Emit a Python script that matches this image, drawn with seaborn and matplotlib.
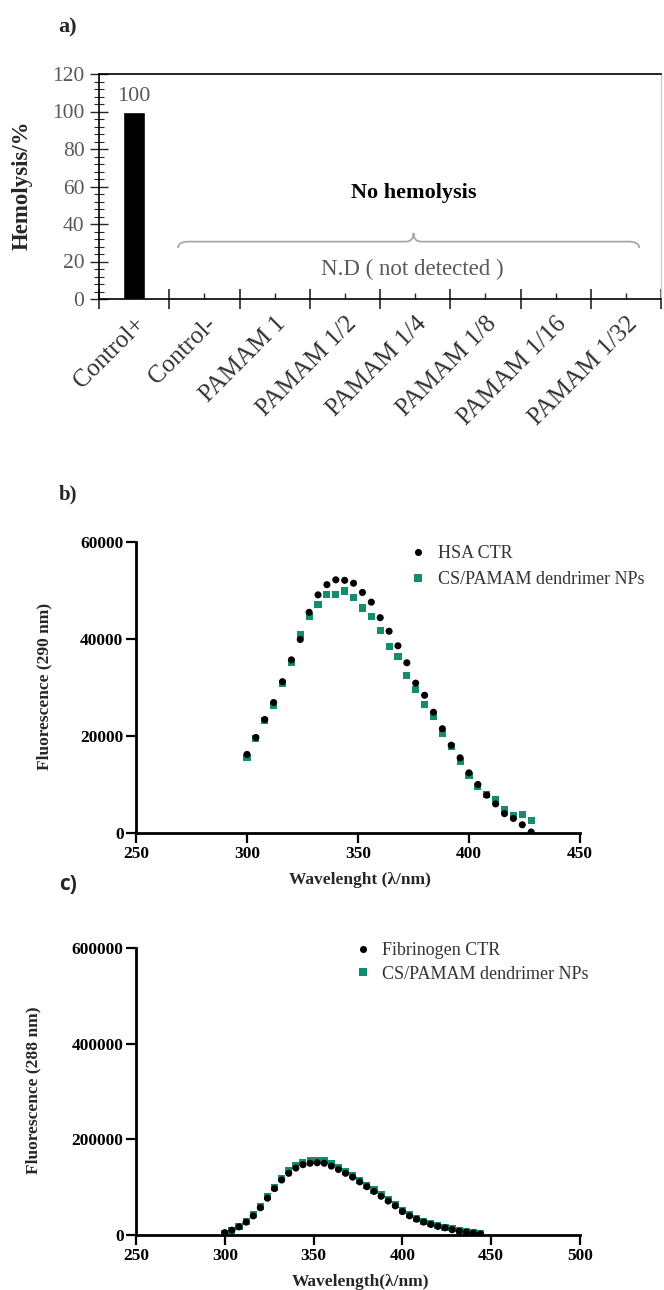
import matplotlib
matplotlib.use("Agg")
import matplotlib.pyplot as plt
import seaborn as sns
import pandas as pd
import numpy as np
from matplotlib.path import Path
from matplotlib.patches import PathPatch
from matplotlib.ticker import MultipleLocator, StrMethodFormatter

# ---- data ----
# a) hemolysis
categories = ['Control+', 'Control-', 'PAMAM 1', 'PAMAM 1/2', 'PAMAM 1/4',
              'PAMAM 1/8', 'PAMAM 1/16', 'PAMAM 1/32']
hemolysis = [100, 0, 0, 0, 0, 0, 0, 0]

# b) HSA fluorescence (excitation 290 nm)
hsa_wl = list(range(300, 429, 4))
hsa_ctr = [16.2, 19.7, 23.4, 26.9, 31.2, 35.7, 39.9, 45.5, 49.1, 51.2, 52.2,
           52.1, 51.5, 49.6, 47.6, 44.4, 41.6, 38.6, 35.1, 30.9, 28.4, 24.9,
           21.5, 18.1, 15.5, 12.4, 10.0, 7.8, 6.0, 4.0, 3.0, 1.7, 0.2]
hsa_np = [15.5, 19.4, 23.2, 26.3, 30.9, 35.1, 40.9, 44.7, 47.1, 49.1, 49.2,
          49.9, 48.5, 46.4, 44.7, 41.8, 38.4, 36.3, 32.4, 29.6, 26.5, 24.1,
          20.6, 17.9, 14.8, 11.9, 9.5, 8.0, 6.9, 4.8, 3.6, 3.8, 2.6]

# c) fibrinogen fluorescence (excitation 288 nm)
fib_wl = list(range(300, 445, 4))
fib_ctr = [5, 10, 17, 27, 40, 57, 77, 97, 115, 129, 140, 147, 150, 151, 150,
           144, 137, 129, 121, 111, 101, 91, 81, 71, 61, 49, 40, 33, 27, 22,
           18, 15, 11, 8, 6, 4, 2]
fib_np = [4, 10, 18, 28, 42, 60, 80, 100, 119, 134, 145, 152, 155, 156, 155,
          149, 141, 133, 124, 114, 104, 94, 84, 74, 63, 52, 43, 35, 29, 24,
          20, 16, 13, 10, 7, 5, 3]

NP_LABEL = 'CS/PAMAM dendrimer NPs'
GREEN = '#148c6e'

sns.set_style('ticks')
plt.rcParams['font.family'] = ['Liberation Serif', 'DejaVu Serif']

W, H = 664, 1290
fig = plt.figure(figsize=(W / 100, H / 100), dpi=100)


def box(left, top, right, bottom):
    # pixel box -> figure fraction
    return [left / W, 1 - bottom / H, (right - left) / W, (bottom - top) / H]


# ---------------- a) ----------------
ax_a = fig.add_axes(box(99, 74, 661, 299))
df_a = pd.DataFrame({'group': categories, 'value': hemolysis})
sns.barplot(data=df_a, x='group', y='value', color='black', saturation=1,
            width=0.32, ax=ax_a)
ax_a.set_xlim(-0.5, 7.5)
ax_a.set_ylim(0, 120)
ax_a.yaxis.set_major_locator(MultipleLocator(20))
ax_a.yaxis.set_minor_locator(MultipleLocator(4))
ax_a.set_xticks(range(len(categories)))
ax_a.set_xticks(np.arange(-0.5, 8, 1), minor=True)
ax_a.set_xticklabels(categories, rotation=45, ha='right', rotation_mode='anchor',
                     fontsize=18, color='#333333')
ax_a.tick_params(axis='x', which='major', direction='in', length=4, width=1, pad=10)
ax_a.tick_params(axis='x', which='minor', direction='inout', length=14, width=1.2)
ax_a.tick_params(axis='y', which='major', direction='inout', length=13, width=1,
                 labelsize=15.5, labelcolor='#595959', pad=4)
ax_a.tick_params(axis='y', which='minor', direction='inout', length=7, width=0.8)
for side in ['left', 'bottom', 'top']:
    ax_a.spines[side].set_visible(True)
    ax_a.spines[side].set_color('black')
    ax_a.spines[side].set_linewidth(1.2)
ax_a.spines['right'].set_visible(True)
ax_a.spines['right'].set_color('#cfcfcf')
ax_a.spines['right'].set_linewidth(1)
ax_a.set_xlabel('')
ax_a.set_ylabel('Hemolysis/%', fontsize=16.5, fontweight='bold', va='center')
ax_a.yaxis.set_label_coords(-0.136, 0.507)
ax_a.bar_label(ax_a.containers[0],
               labels=[f'{v:g}' if v else '' for v in hemolysis],
               padding=4, fontsize=16, color='#595959')

ax_a.text(3.98, 56.5, 'No hemolysis', ha='center', va='center',
          fontsize=16, fontweight='bold', color='black')
ax_a.text(3.96, 15.5, 'N.D ( not detected )', ha='center', va='center',
          fontsize=16.5, color='#595959')

# curly brace over the non-detected groups
yb, ye, yt = 30.6, 27.2, 35.2
xl, xm, xr = 0.625, 3.977, 7.19
verts = [(xl, ye), (xl, yb), (xl + 0.15, yb),
         (xm - 0.11, yb), (xm, yb), (xm, yt),
         (xm, yb), (xm + 0.11, yb),
         (xr - 0.15, yb), (xr, yb), (xr, ye)]
codes = [Path.MOVETO, Path.CURVE3, Path.CURVE3,
         Path.LINETO, Path.CURVE3, Path.CURVE3,
         Path.CURVE3, Path.CURVE3,
         Path.LINETO, Path.CURVE3, Path.CURVE3]
ax_a.add_patch(PathPatch(Path(verts, codes), fill=False, edgecolor='#a8a8a8', lw=1.3))


# ---------------- b) and c) ----------------
def spectrum_panel(ax, wl, ctr, np_vals, ctr_label, xmax, ymax, ystep, scale):
    df = pd.concat([
        pd.DataFrame({'wl': wl, 'fl': np.array(np_vals) * scale, 'sample': NP_LABEL}),
        pd.DataFrame({'wl': wl, 'fl': np.array(ctr) * scale, 'sample': ctr_label}),
    ], ignore_index=True)
    sns.scatterplot(data=df, x='wl', y='fl', hue='sample', style='sample',
                    hue_order=[ctr_label, NP_LABEL], style_order=[ctr_label, NP_LABEL],
                    palette={ctr_label: 'black', NP_LABEL: GREEN},
                    markers={ctr_label: 'o', NP_LABEL: 's'},
                    s=26, linewidth=0, ax=ax)
    ax.set_xlim(250, xmax)
    ax.set_ylim(0, ymax)
    ax.set_xticks(np.arange(250, xmax + 1, 50))
    ax.set_yticks(np.arange(0, ymax + 1, ystep))
    ax.yaxis.set_major_formatter(StrMethodFormatter('{x:.0f}'))
    sns.despine(ax=ax)
    for side in ['left', 'bottom']:
        ax.spines[side].set_linewidth(2)
        ax.spines[side].set_color('black')
    ax.tick_params(direction='out', length=7, width=1.6, labelsize=12.5,
                   colors='black', pad=2)
    for lab in ax.get_xticklabels() + ax.get_yticklabels():
        lab.set_fontweight('bold')


ax_b = fig.add_axes(box(136, 542, 580, 833))
spectrum_panel(ax_b, hsa_wl, hsa_ctr, hsa_np, 'HSA CTR', 450, 60000, 20000, 1000)
ax_b.set_xlabel('Wavelenght (λ/nm)', fontsize=12.5, fontweight='bold', va='center')
ax_b.xaxis.set_label_coords(0.505, -0.162)
ax_b.set_ylabel('Fluorescence (290 nm)', fontsize=12.5, fontweight='bold', va='center')
ax_b.yaxis.set_label_coords(-0.207, 0.502)
sns.move_legend(ax_b, 'upper left', bbox_to_anchor=(0.614, 0.99), frameon=False,
                title=None, fontsize=13, handlelength=1, handletextpad=0.6,
                borderpad=0, borderaxespad=0, labelspacing=0.5, labelcolor='#333333')

ax_c = fig.add_axes(box(136, 948, 580, 1235))
spectrum_panel(ax_c, fib_wl, fib_ctr, fib_np, 'Fibrinogen CTR', 500, 600000, 200000, 1000)
ax_c.set_xlabel('Wavelength(λ/nm)', fontsize=12.5, fontweight='bold', va='center')
ax_c.xaxis.set_label_coords(0.505, -0.164)
ax_c.set_ylabel('Fluorescence (288 nm)', fontsize=12.5, fontweight='bold', va='center')
ax_c.yaxis.set_label_coords(-0.23, 0.505)
sns.move_legend(ax_c, 'upper left', bbox_to_anchor=(0.49, 1.02), frameon=False,
                title=None, fontsize=13, handlelength=1, handletextpad=0.6,
                borderpad=0, borderaxespad=0, labelspacing=0.35, labelcolor='#333333')

# panel letters
fig.text(68 / W, 1 - 27 / H, 'a)', ha='center', va='center', fontsize=16, fontweight='bold')
fig.text(68 / W, 1 - 494 / H, 'b)', ha='center', va='center', fontsize=15, fontweight='bold')
fig.text(68 / W, 1 - 885 / H, 'c)', ha='center', va='center', fontsize=15,
         fontweight='bold', family=['Open Sans', 'DejaVu Sans'])

fig.savefig('out.png', dpi=100)
